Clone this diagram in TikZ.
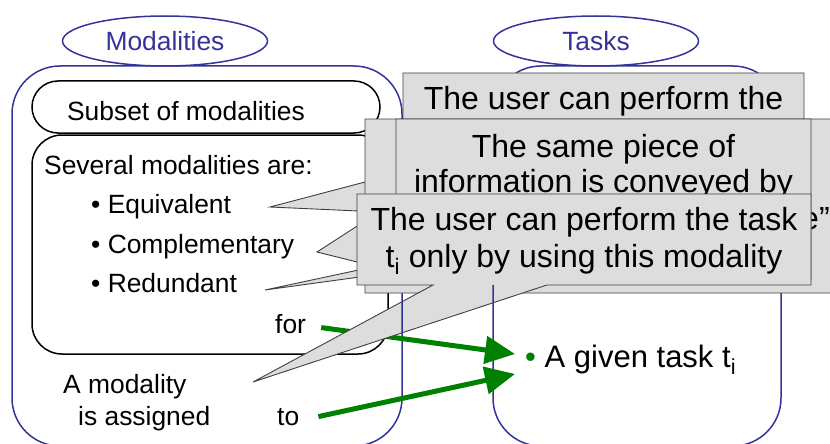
\documentclass[tikz,border=0pt]{standalone}
\usepackage{fontspec}
\setmainfont{Liberation Sans}
\usetikzlibrary{arrows.meta}
\usetikzlibrary{shapes.geometric}
\definecolor{setblue}{RGB}{51,51,153}
\definecolor{assigngreen}{RGB}{0,128,0}
\definecolor{calloutgray}{RGB}{221,221,221}

\begin{document}
\begin{tikzpicture}[x=1pt, y=-1pt,
    setbox/.style={draw=setblue, line width=1.5pt, rounded corners=48pt},
    settitle/.style={ellipse, draw=setblue, line width=1.5pt, text=setblue,
      minimum width=205pt, minimum height=50pt, inner sep=0pt,
      font=\fontsize{26.4}{30}\selectfont},
    plaintext/.style={anchor=base west, inner sep=0pt, font=\fontsize{26.4}{30}\selectfont},
    callout/.style={fill=calloutgray, draw=black!75, line width=0.9pt},
    callouttext/.style={anchor=base, inner sep=0pt, font=\fontsize{32}{37}\selectfont},
    assign/.style={draw=assigngreen, line width=5pt, -{Triangle[length=30pt,width=27pt]}}]
    \useasboundingbox (0,0) rectangle (830,444);
    \clip (0,0) rectangle (830,444);

    \draw[setbox] (12,66) rectangle (402,446);
    \draw[setbox] (493,66) rectangle (781,446);
    \node[settitle] (modalities) at (165,41) {Modalities};
    \node[settitle] (tasks) at (596,41) {Tasks};

    \draw[line width=1.5pt, rounded corners=26pt] (32,81) rectangle (380,133);
    \node[font=\fontsize{26.4}{30}\selectfont, anchor=base, inner sep=0pt] (subset) at (186,120) {Subset of modalities};
    \draw[line width=1.5pt, rounded corners=30pt] (32,135) rectangle (388,354);

    \node[plaintext] (several) at (44,174) {Several modalities are:};
    \node[plaintext] (equiv) at (91,213) {• Equivalent};
    \node[plaintext] (compl) at (91,253) {• Complementary};
    \node[plaintext] (redund) at (91,292) {• Redundant};
    \node[plaintext] (for) at (275,333) {for};
    \node[plaintext] (amod) at (63,393) {A modality};
    \node[plaintext] (assigned) at (78,425) {is assigned};
    \node[plaintext] (to) at (277,425) {to};
    \node[plaintext, font=\fontsize{31}{36}\selectfont] (task) at (525,367)
      {{\color{assigngreen}•} A given task t\textsubscript{i}};

    \coordinate (forend) at (515,354);
    \coordinate (toend) at (515,374);
    \draw[assign] ([shift={(15,4)}]for.east) -- (forend);
    \draw[assign] ([shift={(19,0)}]to.east) -- (toend);

    % callouts, back to front
    \draw[callout] (403,73) -- (804,73) -- (804,250) -- (403,250) -- (403,213)
      -- (270,207) -- (403,172) -- cycle;
    \node[callouttext] (aline) at (603.5,110) {The user can perform the};

    \draw[callout] (365,119) -- (845,119) -- (845,293) -- (365,293) -- (365,264)
      -- (317,252) -- (365,221) -- cycle;
    \node[callouttext, anchor=base west] (bline) at (801,229) {e”};

    \draw[callout] (396,119) -- (811,119) -- (811,280) -- (396,280) -- (396,272)
      -- (265,290) -- (396,262) -- cycle;
    \node[callouttext] (bbline1) at (603.5,157) {The same piece of};
    \node[callouttext] (bbline2) at (603.5,192) {information is conveyed by};

    \draw[callout] (357,194) -- (811,194) -- (811,285) -- (547,285) -- (253,382)
      -- (433,285) -- (357,285) -- cycle;
    \node[callouttext] (cline1) at (584,230) {The user can perform the task};
    \node[callouttext] (cline2) at (584,267) {t\textsubscript{i} only by using this modality};

    % blue frames show through the pointer
    \begin{scope}
      \clip (433,285) -- (253,382) -- (547,285) -- cycle;
      \draw[setbox] (12,66) rectangle (402,446);
      \draw[setbox] (493,66) rectangle (781,446);
    \end{scope}
\end{tikzpicture}
\end{document}
